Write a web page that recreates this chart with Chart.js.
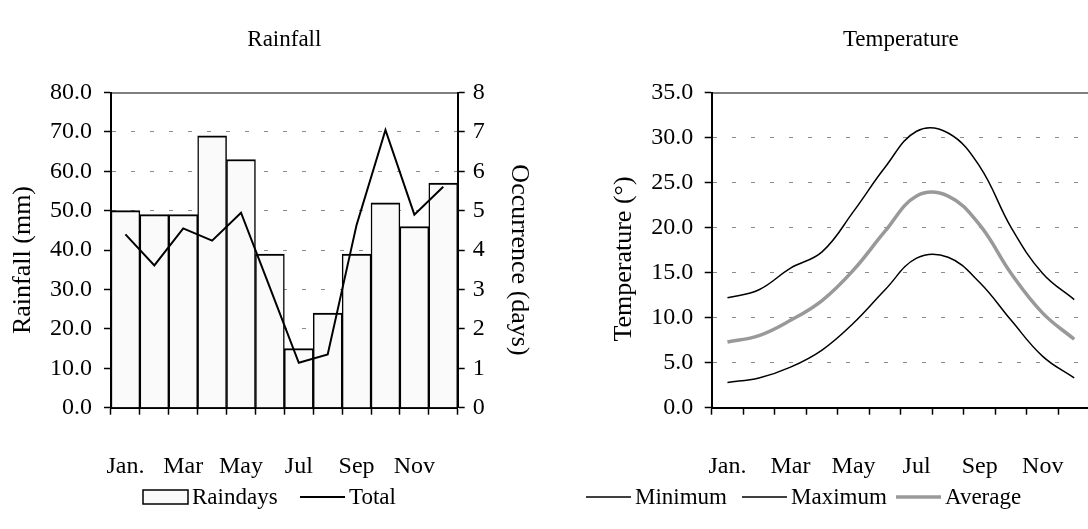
<!DOCTYPE html>
<html>
<head>
<meta charset="utf-8">
<script src="https://cdn.jsdelivr.net/npm/chart.js@4"></script>
<style>
  html, body { margin: 0; padding: 0; background: #fff; overflow: hidden; }
  #wrap { position: relative; width: 1088px; height: 529px; overflow: hidden; }
  #rain { position: absolute; left: 0; top: 0; }
  #temp { position: absolute; left: 544px; top: 0; }
</style>
</head>
<body>
<div id="wrap">
  <canvas id="rain" width="544" height="529"></canvas>
  <canvas id="temp" width="590" height="529"></canvas>
</div>
<script>
// Monthly climate data
const months = ['Jan.', 'Feb', 'Mar', 'Apr', 'May', 'Jun', 'Jul', 'Aug', 'Sep', 'Oct', 'Nov', 'Dec'];

// Rain days per month (days, right axis)
const raindays = [5.0, 4.9, 4.9, 6.9, 6.3, 3.9, 1.5, 2.4, 3.9, 5.2, 4.6, 5.7];
// Total monthly rainfall (mm, left axis)
const rainTotal = [44.0, 36.1, 45.5, 42.4, 49.5, 30.5, 11.4, 13.5, 46.4, 70.5, 49.0, 56.1];

// Temperatures (°)
const tempMin = [2.8, 3.3, 4.5, 6.4, 9.4, 13.1, 16.6, 16.7, 13.9, 9.7, 5.7, 3.3];
const tempMax = [12.2, 13.1, 15.5, 17.3, 21.8, 26.7, 30.7, 30.5, 26.8, 20.0, 14.9, 12.0];
const tempAvg = [7.3, 8.0, 9.7, 11.9, 15.3, 19.6, 23.5, 23.5, 20.3, 14.9, 10.5, 7.6];

// Axis ranges
const rainAxis = { min: 0, max: 80, step: 10 };
const dayAxis = { min: 0, max: 8, step: 1 };
const tempAxis = { min: 0, max: 35, step: 5 };

const FONT = '"Liberation Serif", "Times New Roman", serif';
const tickFont = { family: FONT, size: 24 };
const legendSize = 23;

// Panel title, rotated axis titles, legend and a solid top edge on the plot area
const panelDecor = {
  id: 'panelDecor',
  afterDraw(chart, args, opts) {
    const { ctx, chartArea: a } = chart;
    ctx.save();

    // solid top edge
    ctx.strokeStyle = '#000';
    ctx.lineWidth = 1;
    ctx.beginPath();
    ctx.moveTo(a.left, a.top + 0.5);
    ctx.lineTo(a.right, a.top + 0.5);
    ctx.stroke();

    // title
    ctx.fillStyle = '#000';
    ctx.font = `${opts.titleSize}px ${FONT}`;
    ctx.textAlign = 'center';
    ctx.textBaseline = 'alphabetic';
    ctx.fillText(opts.title, (a.left + a.right) / 2, opts.titleY);

    // axis titles
    ctx.font = `${opts.axisSize}px ${FONT}`;
    ctx.textBaseline = 'middle';
    for (const t of opts.axisTitles) {
      ctx.save();
      ctx.translate(t.x, t.y);
      ctx.rotate(t.rot);
      ctx.fillText(t.text, 0, 0);
      ctx.restore();
    }

    // legend
    ctx.font = `${legendSize}px ${FONT}`;
    ctx.textAlign = 'left';
    ctx.textBaseline = 'middle';
    const ly = opts.legendY;
    chart.data.datasets.forEach((ds, i) => {
      const x = opts.legendX[i];
      const w = 45;
      if ((ds.type || chart.config.type) === 'bar') {
        ctx.fillStyle = ds.backgroundColor;
        ctx.fillRect(x, ly - 7, w, 14);
        ctx.strokeStyle = ds.borderColor;
        ctx.lineWidth = 1.5;
        ctx.strokeRect(x, ly - 7, w, 14);
      } else {
        ctx.strokeStyle = ds.borderColor;
        ctx.lineWidth = ds.borderWidth;
        ctx.beginPath();
        ctx.moveTo(x, ly);
        ctx.lineTo(x + w, ly);
        ctx.stroke();
      }
      ctx.fillStyle = '#000';
      ctx.fillText(ds.label, x + w + 4, ly + 1);
    });
    ctx.restore();
  }
};

const gridDash = [4, 15];
const maxIsTop = (max) => (c) => (c.tick && c.tick.value === max) ? 'rgba(0,0,0,0)' : '#8c8c8c';

function xScale() {
  return {
    type: 'category',
    offset: true,
    grid: { display: true, drawOnChartArea: false, drawTicks: true, offset: true,
            tickLength: 7, tickColor: '#000', tickWidth: 1.5 },
    border: { display: true, color: '#000', width: 2 },
    ticks: {
      font: tickFont, color: '#000', padding: 38, autoSkip: false, maxRotation: 0,
      callback: (v, i) => (i % 2 === 0 ? months[i] : '')
    },
    afterFit: (s) => { s.height = 82; }
  };
}

const commonPlugins = {
  legend: { display: false },
  title: { display: false },
  tooltip: { enabled: false }
};

// Rainfall panel
new Chart(document.getElementById('rain'), {
  data: {
    labels: months,
    datasets: [
      {
        type: 'bar', label: 'Raindays', data: raindays, yAxisID: 'y1',
        backgroundColor: '#fafafa', borderColor: '#000',
        borderWidth: { top: 2, left: 1.5, right: 1.5, bottom: 0 }, borderSkipped: false,
        barPercentage: 1, categoryPercentage: 1, order: 2
      },
      {
        type: 'line', label: 'Total', data: rainTotal, yAxisID: 'y',
        borderColor: '#000', borderWidth: 2, pointRadius: 0, tension: 0, order: 1
      }
    ]
  },
  options: {
    responsive: false, animation: false,
    layout: { padding: { top: 92.5, bottom: 39.3, left: 0, right: 0 } },
    plugins: {
      ...commonPlugins,
      panelDecor: {
        title: 'Rainfall', titleY: 46, titleSize: 23, axisSize: 26,
        axisTitles: [
          { text: 'Rainfall (mm)', x: 23, y: 260, rot: -Math.PI / 2 },
          { text: 'Occurrence (days)', x: 519, y: 260, rot: Math.PI / 2 }
        ],
        legendX: [143, 300], legendY: 497
      }
    },
    scales: {
      x: xScale(),
      y: {
        position: 'left', min: rainAxis.min, max: rainAxis.max,
        ticks: { stepSize: rainAxis.step, font: tickFont, color: '#000', padding: 12,
                 callback: (v) => v.toFixed(1) },
        grid: { color: maxIsTop(rainAxis.max), lineWidth: 1, tickColor: '#000', tickLength: 7, tickWidth: 1.5 },
        border: { display: true, color: '#000', width: 2, dash: gridDash },
        afterFit: (s) => { s.width = 111; }
      },
      y1: {
        position: 'right', min: dayAxis.min, max: dayAxis.max,
        ticks: { stepSize: dayAxis.step, font: tickFont, color: '#000', padding: 8,
                 callback: (v) => String(v) },
        grid: { drawOnChartArea: false, drawTicks: true, tickColor: '#000', tickLength: 7, tickWidth: 1.5 },
        border: { display: true, color: '#000', width: 2 },
        afterFit: (s) => { s.width = 86.3; }
      }
    }
  },
  plugins: [panelDecor]
});

// Temperature panel
new Chart(document.getElementById('temp'), {
  type: 'line',
  data: {
    labels: months,
    datasets: [
      { label: 'Minimum', data: tempMin, borderColor: '#000', borderWidth: 1.5,
        pointRadius: 0, tension: 0.4 },
      { label: 'Maximum', data: tempMax, borderColor: '#000', borderWidth: 1.5,
        pointRadius: 0, tension: 0.4 },
      { label: 'Average', data: tempAvg, borderColor: '#999999', borderWidth: 3.5,
        pointRadius: 0, tension: 0.4 }
    ]
  },
  options: {
    responsive: false, animation: false,
    layout: { padding: { top: 92.5, bottom: 39.3, left: 0, right: 44 } },
    plugins: {
      ...commonPlugins,
      panelDecor: {
        title: 'Temperature', titleY: 46, titleSize: 23, axisSize: 26,
        axisTitles: [
          { text: 'Temperature (°)', x: 80, y: 259, rot: -Math.PI / 2 }
        ],
        legendX: [42, 198, 352], legendY: 497
      }
    },
    scales: {
      x: xScale(),
      y: {
        position: 'left', min: tempAxis.min, max: tempAxis.max,
        ticks: { stepSize: tempAxis.step, font: tickFont, color: '#000', padding: 11.5,
                 callback: (v) => v.toFixed(1) },
        grid: { color: maxIsTop(tempAxis.max), lineWidth: 1, tickColor: '#000', tickLength: 7, tickWidth: 1.5 },
        border: { display: true, color: '#000', width: 2, dash: gridDash },
        afterFit: (s) => { s.width = 167.7; }
      }
    }
  },
  plugins: [panelDecor]
});
</script>
</body>
</html>
